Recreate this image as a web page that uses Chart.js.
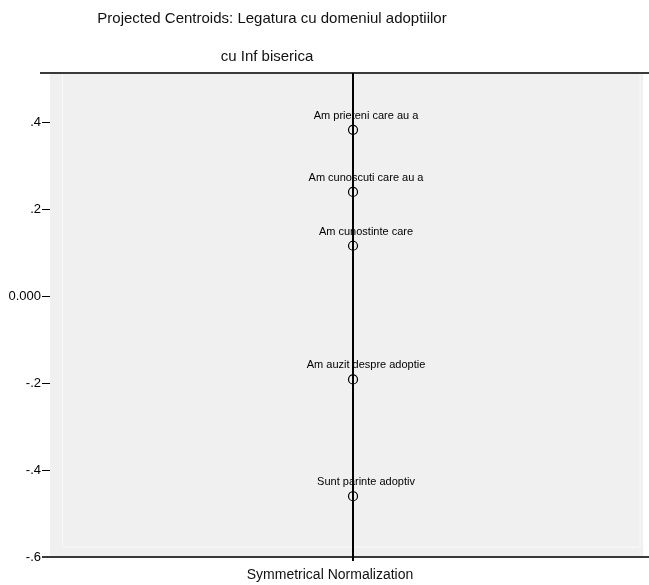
<!DOCTYPE html>
<html>
<head>
<meta charset="utf-8">
<title>Projected Centroids</title>
<script src="https://cdn.jsdelivr.net/npm/chart.js@4/dist/chart.umd.min.js"></script>
<style>
  html, body { margin: 0; padding: 0; background: #fff; }
  #wrap { width: 649px; height: 585px; }
</style>
</head>
<body>
<div id="wrap"><canvas id="chart" width="649" height="585"></canvas></div>
<script>
const TITLE_LINES = ['Projected Centroids: Legatura cu domeniul adoptiilor', 'cu Inf biserica'];
const X_TITLE = 'Symmetrical Normalization';

const CATEGORIES = [
    'Am prieteni care au a',
    'Am cunoscuti care au a',
    'Am cunostinte care',
    'Am auzit despre adoptie',
    'Sunt parinte adoptiv'
];
const DIM_X = [0, 0, 0, 0, 0];
const DIM_Y = [0.384, 0.241, 0.117, -0.191, -0.460];

const TICK_VALUES = [0.4, 0.2, 0, -0.2, -0.4, -0.6];
const TICK_LABELS = ['.4', '.2', '0.000', '-.2', '-.4', '-.6'];

const Y_MIN = -0.6, Y_MAX = 0.515;
const X_MIN = -1, X_MAX = 0.957;

const FONT = '"Liberation Sans", Arial, sans-serif';

// gray plot background, frame lines and the centre line
const ramka = {
    id: 'ramka',
    beforeDatasetsDraw(chart) {
        const { ctx, chartArea: a, scales } = chart;
        ctx.save();
        ctx.fillStyle = '#f0f0f0';
        ctx.fillRect(a.left, a.top, a.right - a.left, a.bottom - a.top);

        ctx.strokeStyle = '#f9f9f9';
        ctx.lineWidth = 1;
        ctx.beginPath();
        ctx.moveTo(a.left + 12.5, a.top);
        ctx.lineTo(a.left + 12.5, a.bottom - 10);
        ctx.lineTo(a.right - 3, a.bottom - 10);
        ctx.lineTo(a.right - 3, a.top);
        ctx.stroke();

        ctx.strokeStyle = '#3a3a3a';
        ctx.lineWidth = 2;
        ctx.beginPath();
        ctx.moveTo(a.left - 10, a.top);
        ctx.lineTo(chart.width, a.top);
        ctx.moveTo(a.left - 8, a.bottom);
        ctx.lineTo(chart.width, a.bottom);
        ctx.stroke();

        const x0 = Math.round(scales.x.getPixelForValue(0));
        ctx.strokeStyle = '#000';
        ctx.lineWidth = 2;
        ctx.beginPath();
        ctx.moveTo(x0, a.top);
        ctx.lineTo(x0, a.bottom + 4);
        ctx.stroke();
        ctx.restore();
    }
};

// titles: SPSS puts them left of the plot centre
const tytuly = {
    id: 'tytuly',
    afterDraw(chart) {
        const { ctx, chartArea: a } = chart;
        ctx.save();
        ctx.fillStyle = '#111';
        ctx.textAlign = 'center';
        ctx.textBaseline = 'middle';
        ctx.font = '15px ' + FONT;
        ctx.fillText(TITLE_LINES[0], 272, 19);
        ctx.fillText(TITLE_LINES[1], 267, 57);
        ctx.font = '14px ' + FONT;
        ctx.fillText(X_TITLE, 330, a.bottom + 18);
        ctx.restore();
    }
};

// category labels above each centroid
const etykiety = {
    id: 'etykiety',
    afterDatasetsDraw(chart) {
        const { ctx } = chart;
        const meta = chart.getDatasetMeta(0);
        ctx.save();
        ctx.font = '11px ' + FONT;
        ctx.fillStyle = '#000';
        ctx.textAlign = 'center';
        ctx.textBaseline = 'middle';
        meta.data.forEach((pt, i) => {
            ctx.fillText(CATEGORIES[i], pt.x + 13, pt.y - 14);
        });
        ctx.restore();
    }
};

const punkty = CATEGORIES.map((c, i) => ({ x: DIM_X[i], y: DIM_Y[i] }));

new Chart(document.getElementById('chart'), {
    type: 'scatter',
    data: {
        datasets: [{
            label: 'Centroids',
            data: punkty,
            pointStyle: 'circle',
            pointRadius: 4.5,
            pointBorderWidth: 1.2,
            pointBorderColor: '#000',
            pointBackgroundColor: 'rgba(0,0,0,0)'
        }]
    },
    options: {
        responsive: false,
        animation: false,
        devicePixelRatio: 1,
        layout: { padding: { top: 73, right: 6, bottom: 0, left: 0 } },
        plugins: {
            legend: { display: false },
            tooltip: { enabled: false },
            title: { display: false }
        },
        scales: {
            x: {
                type: 'linear',
                min: X_MIN,
                max: X_MAX,
                grid: { display: false },
                border: { display: false },
                ticks: { display: false },
                title: { display: false },
                afterFit(s) { s.height = 28; }
            },
            y: {
                type: 'linear',
                min: Y_MIN,
                max: Y_MAX,
                afterBuildTicks(s) { s.ticks = TICK_VALUES.map(v => ({ value: v })); },
                grid: {
                    drawOnChartArea: false,
                    drawTicks: true,
                    tickLength: 8,
                    color: '#000',
                    lineWidth: 1
                },
                border: { display: false },
                ticks: {
                    color: '#000',
                    font: { family: FONT, size: 13 },
                    padding: 1,
                    callback(v) {
                        const i = TICK_VALUES.findIndex(t => Math.abs(t - v) < 1e-6);
                        return i >= 0 ? TICK_LABELS[i] : '';
                    }
                },
                afterFit(s) { s.width = 50; }
            }
        }
    },
    plugins: [ramka, etykiety, tytuly]
});
</script>
</body>
</html>
